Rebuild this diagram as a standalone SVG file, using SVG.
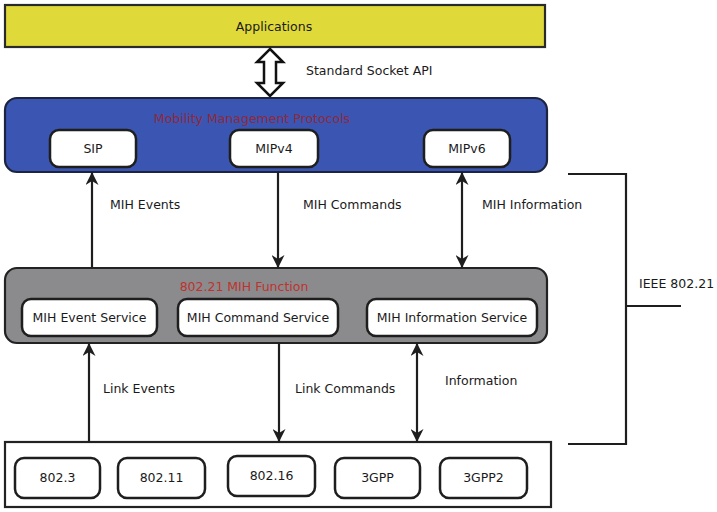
<svg xmlns="http://www.w3.org/2000/svg" width="717" height="512" viewBox="0 0 717 512">
<style>
text{font-family:"DejaVu Sans","Verdana",sans-serif;font-size:12.5px;fill:#1a1a1a}
.c{text-anchor:middle}
.w{fill:#fff;stroke:#1e1e1e;stroke-width:2.5}
.ln{stroke:#1e1e1e;stroke-width:2.2;fill:none}
.red{fill:#b22a2a}
</style>
<defs>
<marker id="ah" markerWidth="13" markerHeight="13" refX="10" refY="5" orient="auto-start-reverse" markerUnits="userSpaceOnUse" viewBox="0 0 10 10">
<path d="M0,0 L10,5 L0,10 L3,5 z" fill="#1e1e1e"/>
</marker>
</defs>
<rect width="717" height="512" fill="#fff"/>

<g id="applications">
<rect x="5" y="5" width="540" height="42" fill="#e0d93a" stroke="#2a2a2a" stroke-width="2.2"/>
<text class="c" x="274" y="31">Applications</text>
</g>

<g id="socket-api">
<path d="M270,49 L283,62 L276,62 L276,83 L283,83 L270,96 L257,83 L264,83 L264,62 L257,62 Z" fill="#fff" stroke="#111" stroke-width="2.5" stroke-linejoin="miter"/>
<text x="306" y="75">Standard Socket API</text>
</g>

<g id="mobility">
<rect x="5" y="98" width="542" height="74" rx="12" fill="#3a55b2" stroke="#1c2440" stroke-width="2.2"/>
<text class="c red" x="252" y="123" style="fill:#8e2a3c">Mobility Management Protocols</text>
</g>
<g id="sip"><rect class="w" x="50" y="130" width="86" height="37" rx="9"/><text class="c" x="93" y="153">SIP</text></g>
<g id="mipv4"><rect class="w" x="230" y="130" width="88" height="37" rx="9"/><text class="c" x="274" y="153">MIPv4</text></g>
<g id="mipv6"><rect class="w" x="424" y="130" width="86" height="37" rx="9"/><text class="c" x="467" y="153">MIPv6</text></g>

<g id="mih-function">
<rect x="5" y="268" width="542" height="75" rx="12" fill="#8b8b8d" stroke="#222" stroke-width="2.2"/>
<text class="c red" x="244" y="291" style="fill:#c0322e">802.21 MIH Function</text>
</g>
<g id="mih-event"><rect class="w" x="22" y="299" width="135" height="37" rx="9"/><text class="c" x="89.5" y="322">MIH Event Service</text></g>
<g id="mih-command"><rect class="w" x="178" y="299" width="160" height="37" rx="9"/><text class="c" x="258" y="322">MIH Command Service</text></g>
<g id="mih-information"><rect class="w" x="367" y="299" width="170" height="37" rx="9"/><text class="c" x="452" y="322">MIH Information Service</text></g>

<g id="links">
<rect x="5" y="442" width="546" height="65" fill="#fff" stroke="#222" stroke-width="2.2"/>
</g>
<g id="l8023"><rect class="w" x="15" y="458" width="85" height="40" rx="9"/><text class="c" x="57.5" y="482">802.3</text></g>
<g id="l80211"><rect class="w" x="118" y="458" width="87" height="40" rx="9"/><text class="c" x="161.5" y="482">802.11</text></g>
<g id="l80216"><rect class="w" x="228" y="456" width="87" height="40" rx="9"/><text class="c" x="271.5" y="480">802.16</text></g>
<g id="l3gpp"><rect class="w" x="335" y="458" width="85" height="40" rx="9"/><text class="c" x="377.5" y="482">3GPP</text></g>
<g id="l3gpp2"><rect class="w" x="440" y="458" width="87" height="40" rx="9"/><text class="c" x="483.5" y="482">3GPP2</text></g>

<g id="ieee-bracket">
<path class="ln" d="M568,174 H626 V444 H568 M626,306 H681"/>
<text x="639" y="288">IEEE 802.21</text>
</g>

<g id="connectors">
<line class="ln" x1="92" y1="268" x2="92" y2="172" marker-end="url(#ah)"/>
<line class="ln" x1="278" y1="172" x2="278" y2="268" marker-end="url(#ah)"/>
<line class="ln" x1="462" y1="172" x2="462" y2="268" marker-start="url(#ah)" marker-end="url(#ah)"/>
<line class="ln" x1="89" y1="442" x2="89" y2="343" marker-end="url(#ah)"/>
<line class="ln" x1="279" y1="343" x2="279" y2="442" marker-end="url(#ah)"/>
<line class="ln" x1="417" y1="343" x2="417" y2="442" marker-start="url(#ah)" marker-end="url(#ah)"/>
<text x="110" y="209">MIH Events</text>
<text x="303" y="209">MIH Commands</text>
<text x="482" y="209">MIH Information</text>
<text x="103" y="393">Link Events</text>
<text x="295" y="393">Link Commands</text>
<text x="445" y="385">Information</text>
</g>
</svg>
